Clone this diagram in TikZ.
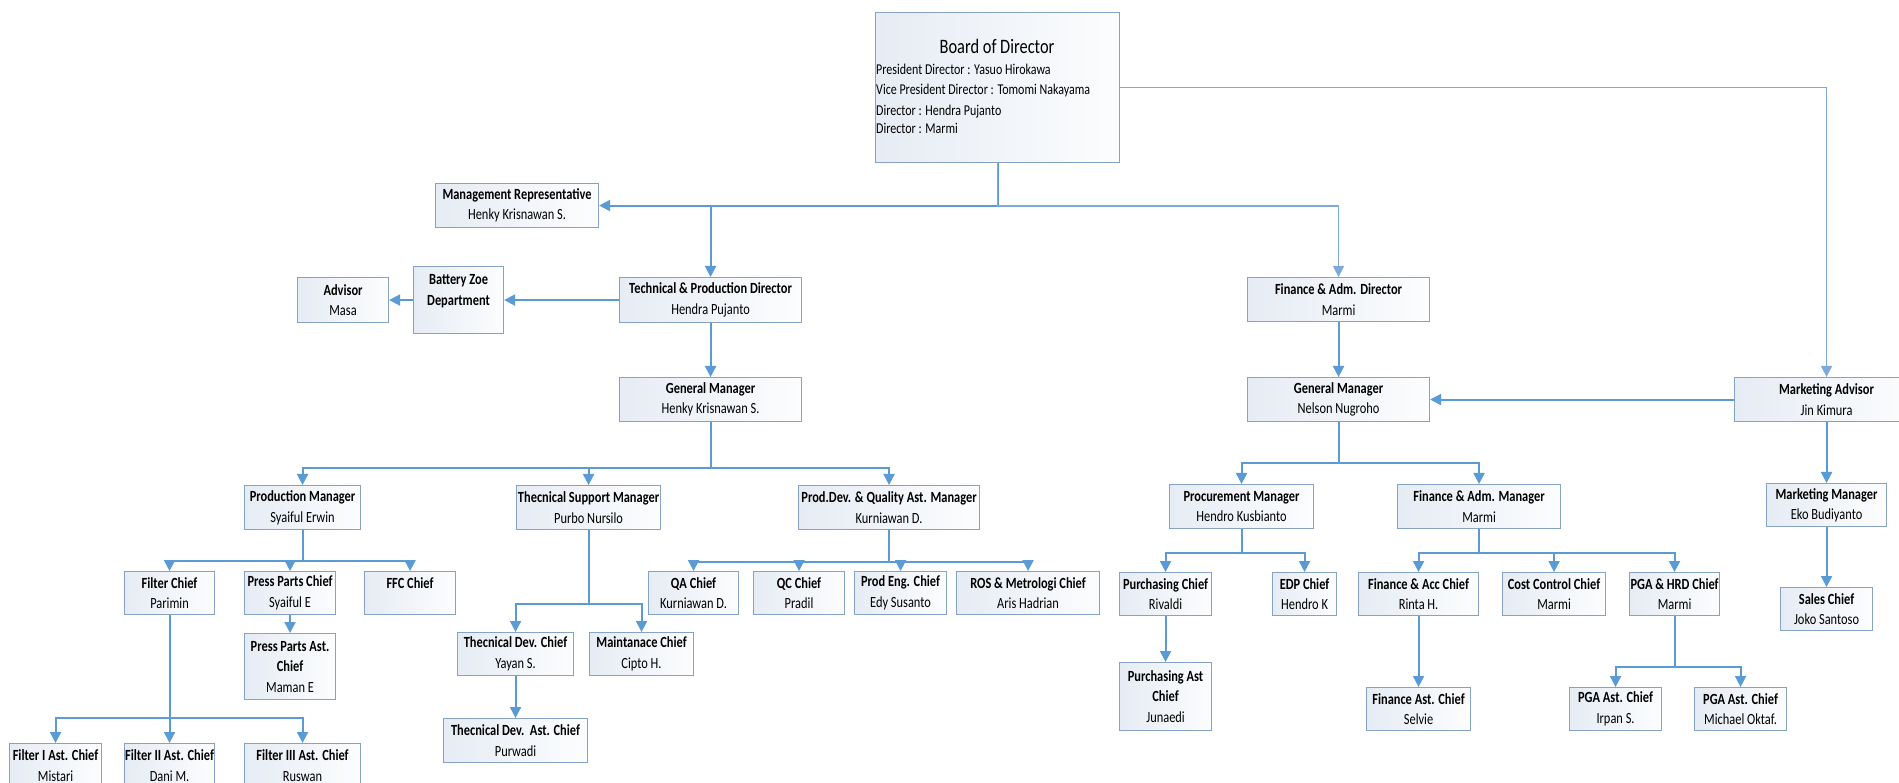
\documentclass[tikz,border=0pt]{standalone}
\usepackage{fontspec}
\setmainfont{Carlito}[FakeStretch=0.8]
\usetikzlibrary{arrows.meta}
\definecolor{boxborder}{HTML}{86A2C4}
\definecolor{boxL}{HTML}{E6ECF4}
\definecolor{boxR}{HTML}{FCFDFE}
\definecolor{lineblue}{HTML}{5B9BD5}
\definecolor{thinblue}{HTML}{7DAAD8}
\newcommand\orgbox[6]{\node[box, anchor=north west, minimum width={#4-#2}, minimum height={#5-#3}] (#1) at (#2,#3) {#6};}
\begin{document}
\begin{tikzpicture}[x=1pt,y=-1pt,
  box/.style={draw=boxborder, line width=1.1pt, left color=boxL, right color=boxR, inner sep=0pt, align=center, font=\fontsize{15.5}{20.5}\selectfont, text=black},
  tip/.style={-{Triangle[width=11pt,length=11pt]}},
  conn/.style={draw=lineblue, line width=2pt, tip},
  plain/.style={draw=lineblue, line width=2pt},
  thinl/.style={draw=thinblue, line width=1.2pt},
  bline/.style={inner sep=0pt, anchor=base west, font=\fontsize{15}{19}\selectfont}]
\fill[white] (0,0) rectangle (1899,783);
\useasboundingbox (0,0) rectangle (1899,783);
\clip (0,0) rectangle (1899,783);

% board
\orgbox{board}{875}{12}{1119}{162}{}
\node[inner sep=0pt, anchor=base, font=\fontsize{20.5}{24}\selectfont] (btitle) at (997,54) {Board of Director};
\node[bline] (bl1) at (876,75) {President Director : Yasuo Hirokawa};
\node[bline] (bl2) at (876,95) {Vice President Director : Tomomi Nakayama};
\node[bline] (bl3) at (876,116) {Director : Hendra Pujanto};
\node[bline] (bl4) at (876,134) {Director : Marmi};

% level 2
\orgbox{mgmtrep}{435}{183}{598}{227}{\textbf{Management Representative}\\Henky Krisnawan S.}
\orgbox{advisor}{297}{277}{388}{322}{\textbf{Advisor}\\Masa}
\orgbox{battery}{413}{266}{503}{333}{\textbf{Battery Zoe}\\\textbf{Department}\\\mbox{}}
\orgbox{techdir}{619}{277}{801}{322}{\textbf{Technical \& Production Director}\\Hendra Pujanto}
\orgbox{findir}{1247}{277}{1429}{321}{\textbf{Finance \& Adm. Director}\\Marmi}
\orgbox{gm1}{619}{377}{801}{421}{\textbf{General Manager}\\Henky Krisnawan S.}
\orgbox{gm2}{1247}{377}{1429}{421}{\textbf{General Manager}\\Nelson Nugroho}
\orgbox{mktadv}{1734}{377}{1918}{421}{\textbf{Marketing Advisor}\\Jin Kimura}

% managers
\orgbox{prodmgr}{244}{485}{360}{529}{\textbf{Production Manager}\\Syaiful Erwin}
\orgbox{techsup}{516}{485}{660}{529}{\textbf{Thecnical Support Manager}\\Purbo Nursilo}
\orgbox{proddev}{798}{485}{979}{529}{\textbf{Prod.Dev. \& Quality Ast. Manager}\\Kurniawan D.}
\orgbox{procmgr}{1169}{484}{1313}{528}{\textbf{Procurement Manager}\\Hendro Kusbianto}
\orgbox{finmgr}{1397}{484}{1560}{528}{\textbf{Finance \& Adm. Manager}\\Marmi}
\orgbox{mktmgr}{1766}{483}{1886}{526}{\textbf{Marketing Manager}\\Eko Budiyanto}

% chiefs
\orgbox{filter}{124}{571}{214}{614}{\textbf{Filter Chief}\\Parimin}
\orgbox{press}{244}{571}{335}{614}{\textbf{Press Parts Chief}\\Syaiful E}
\orgbox{ffc}{364}{571}{455}{614}{\textbf{FFC Chief}\\\mbox{}}
\orgbox{pressast}{244}{633}{335}{699}{\textbf{Press Parts Ast.}\\\textbf{Chief}\\Maman E}
\orgbox{filt1}{9}{743}{101}{787}{\textbf{Filter I Ast. Chief}\\Mistari}
\orgbox{filt2}{124}{743}{214}{787}{\textbf{Filter II Ast. Chief}\\Dani M.}
\orgbox{filt3}{244}{743}{360}{787}{\textbf{Filter III Ast. Chief}\\Ruswan}
\orgbox{tdev}{457}{632}{573}{675}{\textbf{Thecnical Dev. Chief}\\Yayan S.}
\orgbox{maint}{589}{632}{693}{675}{\textbf{Maintanace Chief}\\Cipto H.}
\orgbox{tdevast}{443}{718}{587}{762}{\textbf{Thecnical Dev.\ \ Ast. Chief}\\Purwadi}
\orgbox{qa}{648}{571}{738}{614}{\textbf{QA Chief}\\Kurniawan D.}
\orgbox{qc}{753}{571}{844}{614}{\textbf{QC Chief}\\Pradil}
\orgbox{pe}{854}{571}{946}{614}{\textbf{Prod Eng. Chief}\\Edy Susanto}
\orgbox{ros}{956}{571}{1099}{614}{\textbf{ROS \& Metrologi Chief}\\Aris Hadrian}
\orgbox{purch}{1119}{572}{1211}{615}{\textbf{Purchasing Chief}\\Rivaldi}
\orgbox{edp}{1272}{572}{1336}{615}{\textbf{EDP Chief}\\Hendro K}
\orgbox{finacc}{1358}{572}{1478}{615}{\textbf{Finance \& Acc Chief}\\Rinta H.}
\orgbox{cost}{1502}{572}{1605}{615}{\textbf{Cost Control Chief}\\Marmi}
\orgbox{pga}{1629}{572}{1719}{615}{\textbf{PGA \& HRD Chief}\\Marmi}
\orgbox{sales}{1780}{587}{1872}{630}{\textbf{Sales Chief}\\Joko Santoso}
\orgbox{purchast}{1119}{662}{1211}{730}{\textbf{Purchasing Ast}\\\textbf{Chief}\\Junaedi}
\orgbox{finast}{1366}{687}{1470}{730}{\textbf{Finance Ast. Chief}\\Selvie}
\orgbox{pgaast1}{1569}{687}{1661}{730}{\textbf{PGA Ast. Chief}\\Irpan S.}
\orgbox{pgaast2}{1694}{687}{1786}{730}{\textbf{PGA Ast. Chief}\\Michael Oktaf.}

% connectors from board
\path (board.south) ++(0,43) coordinate (bB);
\draw[conn] (board.south) |- (mgmtrep.east);
\draw[conn] (bB) -| (techdir.north);
\draw[thinl] (board.south) -- (bB);
\draw[thinl, tip] (bB) -| (findir.north);
\draw[thinl, tip] (board.east) -| (mktadv.north);

% technical side
\draw[conn] (techdir.west) -- (battery.east);
\draw[conn] (battery.west) -- (advisor.east);
\draw[conn] (techdir.south) -- (gm1.north);
\path (gm1.south) ++(0,46) coordinate (bG);
\draw[plain] (gm1.south) -- (bG);
\draw[conn] (bG) -| (prodmgr.north);
\draw[conn] (bG) -| (techsup.north);
\draw[conn] (bG) -| (proddev.north);

\path (prodmgr.south) ++(0,31) coordinate (bP);
\draw[plain] (prodmgr.south) -- (bP);
\draw[conn] (bP) -| (filter.north);
\draw[conn] (bP) -| (press.north);
\draw[conn] (bP) -| (ffc.north);
\draw[conn] (press.south) -- (pressast.north);

\path (filter.south) ++(0,103) coordinate (bF);
\draw[plain] (filter.south) -- (bF);
\draw[conn] (bF) -| (filt1.north);
\draw[conn] (bF) -| (filt2.north);
\draw[conn] (bF) -| (filt3.north);

\path (techsup.south) ++(0,74) coordinate (bT);
\draw[plain] (techsup.south) -- (bT);
\draw[conn] (bT) -| (tdev.north);
\draw[conn] (bT) -| (maint.north);
\draw[conn] (tdev.south) -- (tdevast.north);

\path (proddev.south) ++(0,32) coordinate (bD);
\draw[plain] (proddev.south) -- (bD);
\draw[conn] (bD) -| (qa.north);
\draw[conn] (bD) -| (qc.north);
\draw[conn] (bD) -| (pe.north);
\draw[conn] (bD) -| (ros.north);

% finance side
\draw[conn] (findir.south) -- (gm2.north);
\draw[conn] (mktadv.west) -- (gm2.east);
\draw[conn] (mktadv.south) -- (mktmgr.north);
\draw[conn] (mktmgr.south) -- (sales.north);

\path (gm2.south) ++(0,41) coordinate (bM);
\draw[plain] (gm2.south) -- (bM);
\draw[conn] (bM) -| (procmgr.north);
\draw[conn] (bM) -| (finmgr.north);

\path (procmgr.south) ++(0,24) coordinate (bR);
\draw[plain] (procmgr.south) -- (bR);
\draw[conn] (bR) -| (purch.north);
\draw[conn] (bR) -| (edp.north);
\draw[conn] (purch.south) -- (purchast.north);

\path (finmgr.south) ++(0,24) coordinate (bA);
\draw[plain] (finmgr.south) -- (bA);
\draw[conn] (bA) -| (finacc.north);
\draw[conn] (bA) -| (cost.north);
\draw[conn] (bA) -| (pga.north);
\draw[conn] (finacc.south) -- (finast.north);

\path (pga.south) ++(0,51) coordinate (bH);
\draw[plain] (pga.south) -- (bH);
\draw[conn] (bH) -| (pgaast1.north);
\draw[conn] (bH) -| (pgaast2.north);
\end{tikzpicture}
\end{document}
